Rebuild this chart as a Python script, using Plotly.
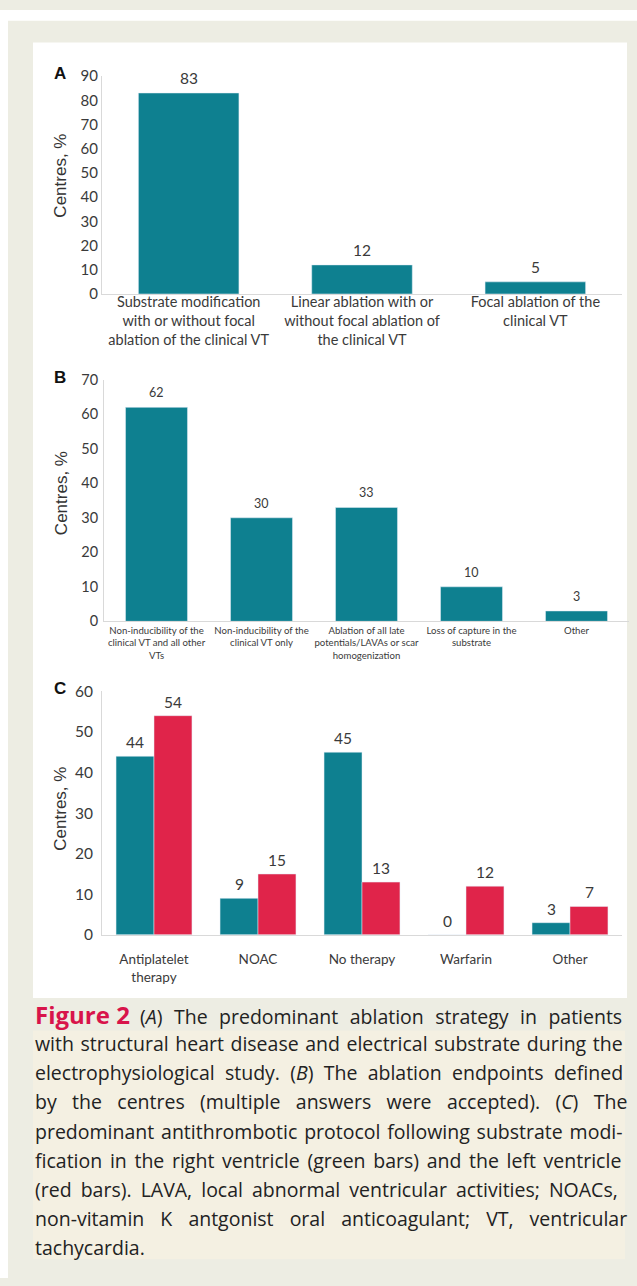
import plotly.graph_objects as go

W, H = 637, 1286

# ---------------- data ----------------
cats_a = ["Substrate modification<br>with or without focal<br>ablation of the clinical VT",
          "Linear ablation with or<br>without focal ablation of<br>the clinical VT",
          "Focal ablation of the<br>clinical VT"]
vals_a = [83, 12, 5]
ticks_a = [0, 10, 20, 30, 40, 50, 60, 70, 80, 90]

cats_b = ["Non-inducibility of the<br>clinical VT and all other<br>VTs",
          "Non-inducibility of the<br>clinical VT only",
          "Ablation of all late<br>potentials/LAVAs or scar<br>homogenization",
          "Loss of capture in the<br>substrate",
          "Other"]
vals_b = [62, 30, 33, 10, 3]
ticks_b = [0, 10, 20, 30, 40, 50, 60, 70]

cats_c = ["Antiplatelet<br>therapy", "NOAC", "No therapy", "Warfarin", "Other"]
vals_c_rv = [44, 9, 45, 0, 3]    # right ventricle (green bars)
vals_c_lv = [54, 15, 13, 12, 7]  # left ventricle (red bars)
ticks_c = [0, 10, 20, 30, 40, 50, 60]

caption_lines = [
    "(<i>A</i>) The predominant ablation strategy in patients",
    "with structural heart disease and electrical substrate during the",
    "electrophysiological study. (<i>B</i>) The ablation endpoints defined",
    "by the centres (multiple answers were accepted). (<i>C</i>) The",
    "predominant antithrombotic protocol following substrate modi-",
    "fication in the right ventricle (green bars) and the left ventricle",
    "(red bars). LAVA, local abnormal ventricular activities; NOACs,",
    "non-vitamin K antgonist oral anticoagulant; VT, ventricular",
    "tachycardia.",
]
# extra word spacing (px) used to justify each caption line
caption_wordspacing = [6.4, 1.5, 5.2, 10.3, 1.8, 2.6, 4.0, 11.0, 0]

TEAL = "#0E8090"
RED = "#E0244A"
TXT = "#3A3A3A"
LBL_FONT = "Lato, Carlito, Calibri, sans-serif"


def px(x):
    return x / W


def py(y):
    return 1 - y / H


fig = go.Figure()

fig.add_trace(go.Bar(x=cats_a, y=vals_a, marker_color=TEAL, width=0.58,
                     xaxis="x", yaxis="y", showlegend=False, hoverinfo="x+y"))
fig.add_trace(go.Bar(x=cats_b, y=vals_b, marker_color=TEAL, width=0.59,
                     xaxis="x2", yaxis="y2", showlegend=False, hoverinfo="x+y"))
fig.add_trace(go.Bar(x=cats_c, y=vals_c_rv, marker_color=TEAL, name="Right ventricle",
                     xaxis="x3", yaxis="y3", showlegend=False))
fig.add_trace(go.Bar(x=cats_c, y=vals_c_lv, marker_color=RED, name="Left ventricle",
                     xaxis="x3", yaxis="y3", showlegend=False))

axis_common = dict(showgrid=False, zeroline=False, showline=True, linecolor="#D9D9D9",
                   linewidth=1, ticks="", fixedrange=True)

fig.update_layout(
    width=W, height=H,
    margin=dict(l=0, r=0, t=0, b=0),
    paper_bgcolor="#EDEDE3",
    plot_bgcolor="rgba(0,0,0,0)",
    barmode="group",
    bargap=0.27, bargroupgap=0,
    font=dict(family=LBL_FONT, color=TXT),
    xaxis=dict(domain=[px(102), px(622)], anchor="y", tickangle=0, ticklabelstandoff=-5,
               tickfont=dict(size=14.5, color=TXT, family=LBL_FONT), **axis_common),
    yaxis=dict(domain=[py(288), py(67)], anchor="x", range=[0, 90], tickvals=ticks_a,
               tickfont=dict(size=15, color=TXT, family=LBL_FONT), **axis_common),
    xaxis2=dict(domain=[px(104), px(629)], anchor="y2", tickangle=0,
                tickfont=dict(size=9.6, color=TXT, family=LBL_FONT), **axis_common),
    yaxis2=dict(domain=[py(620), py(375)], anchor="x2", range=[0, 70], tickvals=ticks_b,
                ticklabelstandoff=2,
                tickfont=dict(size=14.5, color=TXT, family=LBL_FONT), **axis_common),
    xaxis3=dict(domain=[px(102), px(622)], anchor="y3", tickangle=0, ticklabelstandoff=12,
                tickfont=dict(size=13.5, color=TXT, family=LBL_FONT), **axis_common),
    yaxis3=dict(domain=[py(938), py(691)], anchor="x3", range=[0, 60], tickvals=ticks_c,
                ticklabelstandoff=5,
                tickfont=dict(size=15.5, color=TXT, family=LBL_FONT), **axis_common),
)

shapes = [
    dict(type="rect", xref="paper", yref="paper", x0=0, x1=1, y0=py(11), y1=1,
         fillcolor="white", line_width=0, layer="below"),
    dict(type="rect", xref="paper", yref="paper", x0=0, x1=px(8), y0=0, y1=1,
         fillcolor="white", line_width=0, layer="below"),
    dict(type="rect", xref="paper", yref="paper", x0=px(33), x1=px(627), y0=py(1002), y1=py(33),
         fillcolor="white", line_width=0, layer="below"),
    dict(type="rect", xref="paper", yref="paper", x0=px(33), x1=px(625), y0=py(1267), y1=py(1035),
         fillcolor="#F4F0E2", line_width=0, layer="below"),
]
fig.update_layout(shapes=shapes)

ann = []


def val_label(xr, yr, xv, yv, size, yshift, xshift=0):
    return dict(text=str(yv), x=xv, y=yv, xref=xr, yref=yr, showarrow=False,
                xanchor="center", yanchor="bottom", yshift=yshift, xshift=xshift,
                font=dict(size=size, color=TXT, family=LBL_FONT))


for c, v in zip(cats_a, vals_a):
    ann.append(val_label("x", "y", c, v, 15.5, 4))
for c, v in zip(cats_b, vals_b):
    ann.append(val_label("x2", "y2", c, v, 12.5, 5))
for c, v in zip(cats_c, vals_c_rv):
    ann.append(val_label("x3", "y3", c, v, 15.5, 3, -19))
for c, v in zip(cats_c, vals_c_lv):
    ann.append(val_label("x3", "y3", c, v, 15.5, 3, 19))

for letter, yy in [("A", 64), ("B", 373), ("C", 688)]:
    ann.append(dict(text=f"<b>{letter}</b>", x=px(60), y=py(yy), xref="paper", yref="paper",
                    showarrow=False, xanchor="center", yanchor="middle",
                    font=dict(size=17, color="#111", family="Arial, Liberation Sans")))
for yy in [168, 490, 810]:
    ann.append(dict(text="Centres, %", x=px(61), y=py(yy), xref="paper", yref="paper",
                    showarrow=False, textangle=-90, xanchor="center", yanchor="middle",
                    font=dict(size=17, color="#333", family="Arial, Liberation Sans")))

y0 = 1019
for i, (line, ws) in enumerate(zip(caption_lines, caption_wordspacing)):
    body = f"<span style='word-spacing:{ws}px'>{line}</span>"
    if i == 0:
        body = ("<span style='color:#D8144B;font-size:24px'><b>Figure 2</b></span>"
                "&nbsp; " + body)
    ann.append(dict(text=body, x=px(33), y=py(y0 + i * 29.5), xref="paper", yref="paper",
                    showarrow=False, xanchor="left", yanchor="middle", align="left",
                    font=dict(size=19.5, color="#222", family="Open Sans, Noto Sans, sans-serif")))
fig.update_layout(annotations=ann)

fig.write_html("out.html",
               post_script="document.body.style.margin='0';document.body.style.padding='0';")
